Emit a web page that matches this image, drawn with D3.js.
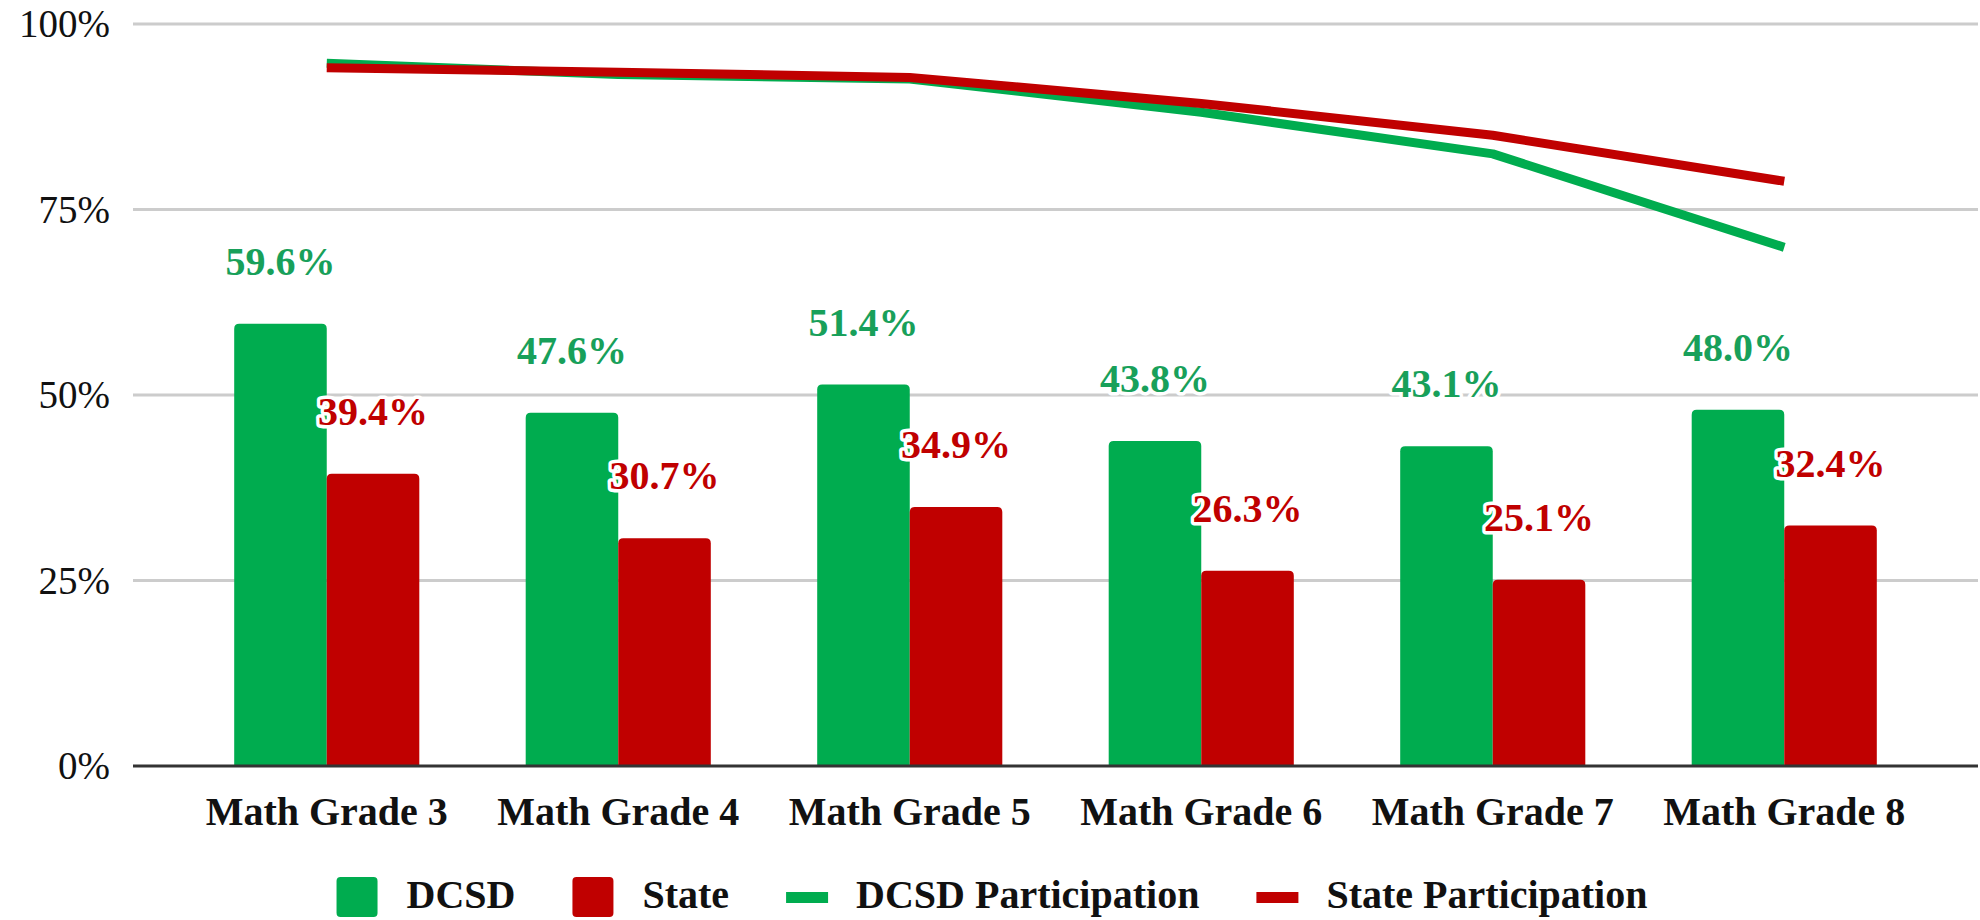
<!DOCTYPE html>
<html>
<head>
<meta charset="utf-8">
<script src="https://cdn.jsdelivr.net/npm/d3@7"></script>
<style>
  html, body { margin: 0; padding: 0; background: #fff; }
  svg { display: block; font-family: 'Liberation Serif', 'Times New Roman', serif; }
  .halo { paint-order: stroke; stroke: #fff; stroke-width: 7px; stroke-linejoin: round; }
</style>
</head>
<body>
<svg id="chart" width="1980" height="920"></svg>
<script>
const grades = ['Math Grade 3', 'Math Grade 4', 'Math Grade 5', 'Math Grade 6', 'Math Grade 7', 'Math Grade 8'];
const dcsd = [59.6, 47.6, 51.4, 43.8, 43.1, 48.0];
const state = [39.4, 30.7, 34.9, 26.3, 25.1, 32.4];
const dcsdParticipation = [94.7, 93.2, 92.6, 88.1, 82.5, 69.9];
const stateParticipation = [94.1, 93.5, 92.8, 89.3, 85.0, 78.8];
const yTicks = [0, 25, 50, 75, 100];
const legendItems = ['DCSD', 'State', 'DCSD Participation', 'State Participation'];

const GREEN = '#00ac4f';
const RED = '#c00000';
const GREEN_TEXT = '#18a05a';
const RED_TEXT = '#c00000';

const svg = d3.select('#chart');

const gridLeft = 133;
const gridRight = 1978;

const x = d3.scaleBand()
  .domain(grades)
  .range([181, 1930])
  .paddingInner(0.365)
  .paddingOuter(0.1825);

const sub = d3.scaleBand()
  .domain(['dcsd', 'state'])
  .range([0, x.bandwidth()]);

const y = d3.scaleLinear()
  .domain([0, 100])
  .range([766, 24]);

// gridlines + tick labels
const grid = svg.append('g').attr('class', 'grid');
grid.selectAll('line')
  .data(yTicks.filter(t => t > 0))
  .enter()
  .append('line')
  .attr('x1', gridLeft)
  .attr('x2', gridRight)
  .attr('y1', d => y(d))
  .attr('y2', d => y(d))
  .attr('stroke', '#cccccc')
  .attr('stroke-width', 3);

const yAxis = d3.axisLeft(y)
  .tickValues(yTicks)
  .tickSize(0)
  .tickPadding(0)
  .tickFormat(d => `${d}%`);

svg.append('g')
  .attr('transform', 'translate(110,0)')
  .call(yAxis)
  .attr('font-family', null)
  .attr('font-size', 39)
  .call(g => g.select('.domain').remove())
  .selectAll('text')
  .attr('fill', '#111')
  .attr('dy', '0.33em');

// rounded-top bar path
function barPath(x0, w, yTop, yBase, r) {
  const rr = Math.min(r, w / 2, yBase - yTop);
  return `M${x0},${yBase}V${yTop + rr}Q${x0},${yTop} ${x0 + rr},${yTop}`
    + `H${x0 + w - rr}Q${x0 + w},${yTop} ${x0 + w},${yTop + rr}V${yBase}Z`;
}

const rows = grades.map((g, i) => ({
  grade: g,
  dcsd: dcsd[i],
  state: state[i],
}));

const bars = svg.append('g').attr('class', 'bars');
[['dcsd', GREEN], ['state', RED]].forEach(([key, color]) => {
  bars.selectAll(`path.${key}`)
    .data(rows)
    .enter()
    .append('path')
    .attr('class', key)
    .attr('fill', color)
    .attr('d', d => barPath(x(d.grade) + sub(key), sub.bandwidth(), y(d[key]), y(0), 5));
});

// baseline
svg.append('line')
  .attr('x1', gridLeft)
  .attr('x2', gridRight)
  .attr('y1', y(0))
  .attr('y2', y(0))
  .attr('stroke', '#333')
  .attr('stroke-width', 3);

// participation lines
const line = d3.line()
  .x((d, i) => x(grades[i]) + x.bandwidth() / 2)
  .y(d => y(d));

[[dcsdParticipation, GREEN], [stateParticipation, RED]].forEach(([vals, color]) => {
  svg.append('path')
    .datum(vals)
    .attr('fill', 'none')
    .attr('stroke', color)
    .attr('stroke-width', 9)
    .attr('stroke-linejoin', 'round')
    .attr('stroke-linecap', 'butt')
    .attr('d', line);
});

// data labels
const labels = svg.append('g').attr('class', 'labels')
  .attr('font-weight', 'bold')
  .attr('font-size', 40)
  .attr('text-anchor', 'middle');

[['dcsd', GREEN_TEXT], ['state', RED_TEXT]].forEach(([key, color]) => {
  labels.selectAll(`text.${key}`)
    .data(rows)
    .enter()
    .append('text')
    .attr('class', `${key} halo`)
    .attr('fill', color)
    .attr('x', d => x(d.grade) + sub(key) + sub.bandwidth() / 2)
    .attr('y', d => y(d[key]) - 49)
    .text(d => `${d[key].toFixed(1)}%`);
});

// x axis labels
const xAxis = d3.axisBottom(x).tickSize(0).tickPadding(0);
svg.append('g')
  .attr('transform', `translate(0,${y(0)})`)
  .call(xAxis)
  .attr('font-family', null)
  .attr('font-size', 40)
  .attr('font-weight', 'bold')
  .call(g => g.select('.domain').remove())
  .selectAll('text')
  .attr('fill', '#111')
  .attr('dy', null)
  .attr('y', 59);

// legend
const legend = svg.append('g').attr('class', 'legend')
  .attr('font-size', 40)
  .attr('font-weight', 'bold')
  .attr('fill', '#111');

const swatchW = 41;
const textGap = 29;
const itemGap = 57;
const legendY = 897;
let cursor = 0;
legendItems.forEach((name, i) => {
  const g = legend.append('g');
  const color = i % 2 === 0 ? GREEN : RED;
  if (i < 2) {
    g.append('rect')
      .attr('x', 0).attr('y', legendY - 20)
      .attr('width', swatchW).attr('height', 40)
      .attr('rx', 4)
      .attr('fill', color);
  } else {
    g.append('rect')
      .attr('x', 0).attr('y', legendY - 5)
      .attr('width', swatchW + 1).attr('height', 11)
      .attr('fill', color);
  }
  const t = g.append('text')
    .attr('x', swatchW + textGap)
    .attr('y', legendY + 11)
    .text(name);
  const w = swatchW + textGap + t.node().getComputedTextLength();
  g.attr('transform', `translate(${cursor},0)`);
  cursor += w + itemGap;
});
const legendWidth = cursor - itemGap;
legend.attr('transform', `translate(${(1980 - legendWidth) / 2 + 2},0)`);
</script>
</body>
</html>
